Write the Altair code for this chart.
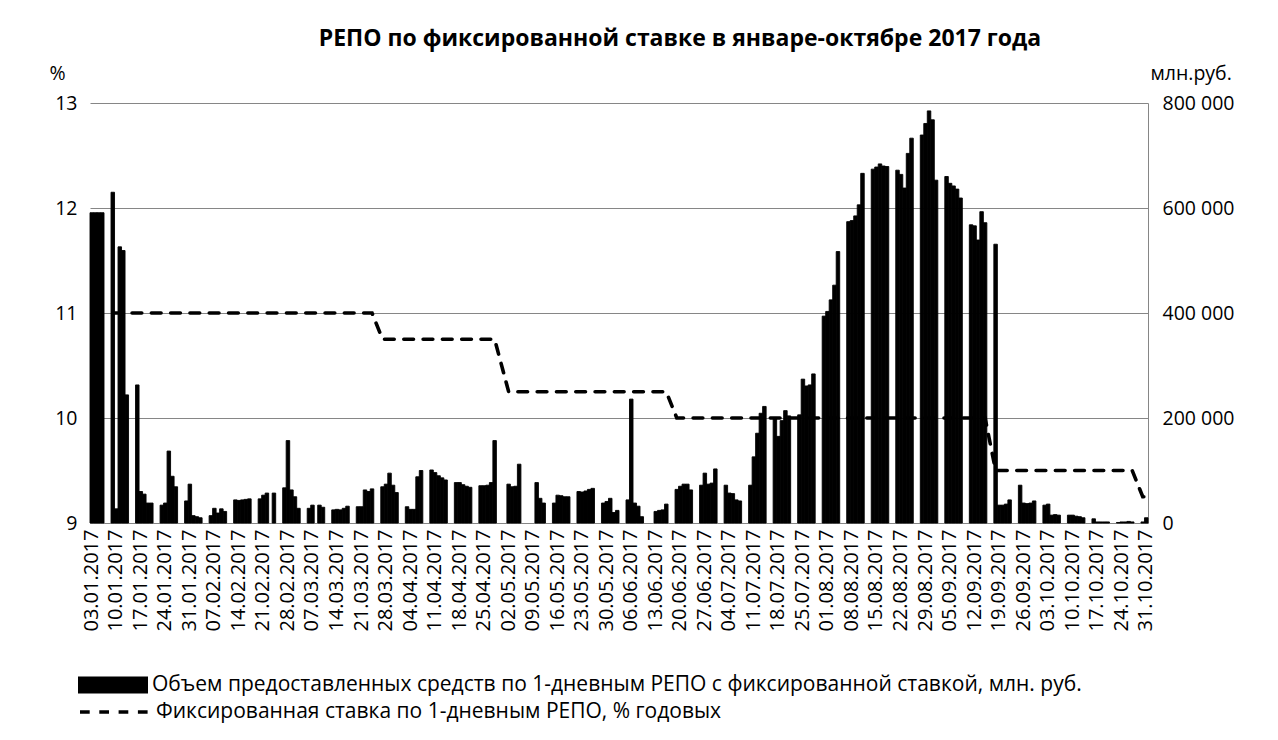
import altair as alt
import pandas as pd

# Monday of each week (business days Mon..Fri follow)
week_monday = [
    "2017-01-02", "2017-01-09", "2017-01-16", "2017-01-23", "2017-01-30",
    "2017-02-06", "2017-02-13", "2017-02-20", "2017-02-27", "2017-03-06",
    "2017-03-13", "2017-03-20", "2017-03-27", "2017-04-03", "2017-04-10",
    "2017-04-17", "2017-04-24", "2017-05-01", "2017-05-08", "2017-05-15",
    "2017-05-22", "2017-05-29", "2017-06-05", "2017-06-12", "2017-06-19",
    "2017-06-26", "2017-07-03", "2017-07-10", "2017-07-17", "2017-07-24",
    "2017-07-31", "2017-08-07", "2017-08-14", "2017-08-21", "2017-08-28",
    "2017-09-04", "2017-09-11", "2017-09-18", "2017-09-25", "2017-10-02",
    "2017-10-09", "2017-10-16", "2017-10-23", "2017-10-30",
]

# volume of 1-day fixed-rate repo, mln rub (Mon..Fri), None = no operation
volume_weeks = [
    [None, 591000, 591000, 591000, 591000],
    [630000, 27000, 526000, 519000, 244000],
    [263000, 60000, 55000, 38000, 38000],
    [34000, 38000, 137000, 89000, 69000],
    [42000, 74000, 14000, 12000, 10000],
    [14000, 28000, 19000, 27000, 22000],
    [44000, 43000, 44000, 45000, 46000],
    [46000, 53000, 57000, None, 57000],
    [67000, 157000, 63000, 50000, 28000],
    [28000, 34000, None, 34000, 30000],
    [25000, 26000, 25000, 28000, 32000],
    [31000, 31000, 63000, 60000, 65000],
    [69000, 74000, 95000, 72000, 58000],
    [31000, 26000, 26000, 88000, 100000],
    [101000, 96000, 90000, 86000, 82000],
    [77000, 77000, 73000, 70000, 68000],
    [71000, 71000, 72000, 77000, 157000],
    [None, 74000, 69000, 70000, 112000],
    [None, None, 77000, 47000, 38000],
    [38000, 53000, 52000, 50000, 50000],
    [60000, 59000, 61000, 64000, 66000],
    [38000, 41000, 47000, 20000, 24000],
    [44000, 236000, 38000, 32000, 12000],
    [None, 22000, 24000, 25000, 36000],
    [64000, 70000, 74000, 74000, 63000],
    [72000, 95000, 74000, 76000, 103000],
    [72000, 57000, 56000, 44000, 42000],
    [72000, 126000, 171000, 209000, 222000],
    [198000, 165000, 195000, 214000, 204000],
    [206000, 274000, 261000, 263000, 284000],
    [394000, 403000, 425000, 453000, 517000],
    [574000, 576000, 585000, 606000, 666000],
    [674000, 678000, 684000, 680000, 679000],
    [672000, 664000, 638000, 704000, 733000],
    [739000, 761000, 785000, 768000, 653000],
    [660000, 647000, 642000, 636000, 619000],
    [568000, 566000, 539000, 593000, 572000],
    [531000, 34000, 34000, 36000, 44000],
    [72000, 38000, 37000, 38000, 42000],
    [34000, 36000, 15000, 16000, 15000],
    [15000, 15000, 13000, 12000, 10000],
    [8000, 2000, 2000, 2000, 2000],
    [1000, 2000, 2000, 3000, 2000],
    [2000, 10000],
]

# fixed rate of 1-day repo, % p.a. (Mon..Fri)
rate_weeks = [
    [None, None, None, None, None],
    [11.0, 11.0, 11.0, 11.0, 11.0],
    [11.0, 11.0, 11.0, 11.0, 11.0],
    [11.0, 11.0, 11.0, 11.0, 11.0],
    [11.0, 11.0, 11.0, 11.0, 11.0],
    [11.0, 11.0, 11.0, 11.0, 11.0],
    [11.0, 11.0, 11.0, 11.0, 11.0],
    [11.0, 11.0, 11.0, None, 11.0],
    [11.0, 11.0, 11.0, 11.0, 11.0],
    [11.0, 11.0, None, 11.0, 11.0],
    [11.0, 11.0, 11.0, 11.0, 11.0],
    [11.0, 11.0, 11.0, 11.0, 11.0],
    [10.75, 10.75, 10.75, 10.75, 10.75],
    [10.75, 10.75, 10.75, 10.75, 10.75],
    [10.75, 10.75, 10.75, 10.75, 10.75],
    [10.75, 10.75, 10.75, 10.75, 10.75],
    [10.75, 10.75, 10.75, 10.75, 10.75],
    [None, 10.25, 10.25, 10.25, 10.25],
    [None, None, 10.25, 10.25, 10.25],
    [10.25, 10.25, 10.25, 10.25, 10.25],
    [10.25, 10.25, 10.25, 10.25, 10.25],
    [10.25, 10.25, 10.25, 10.25, 10.25],
    [10.25, 10.25, 10.25, 10.25, 10.25],
    [None, 10.25, 10.25, 10.25, 10.25],
    [10.0, 10.0, 10.0, 10.0, 10.0],
    [10.0, 10.0, 10.0, 10.0, 10.0],
    [10.0, 10.0, 10.0, 10.0, 10.0],
    [10.0, 10.0, 10.0, 10.0, 10.0],
    [10.0, 10.0, 10.0, 10.0, 10.0],
    [10.0, 10.0, 10.0, 10.0, 10.0],
    [10.0, 10.0, 10.0, 10.0, 10.0],
    [10.0, 10.0, 10.0, 10.0, 10.0],
    [10.0, 10.0, 10.0, 10.0, 10.0],
    [10.0, 10.0, 10.0, 10.0, 10.0],
    [10.0, 10.0, 10.0, 10.0, 10.0],
    [10.0, 10.0, 10.0, 10.0, 10.0],
    [10.0, 10.0, 10.0, 10.0, 10.0],
    [9.5, 9.5, 9.5, 9.5, 9.5],
    [9.5, 9.5, 9.5, 9.5, 9.5],
    [9.5, 9.5, 9.5, 9.5, 9.5],
    [9.5, 9.5, 9.5, 9.5, 9.5],
    [9.5, 9.5, 9.5, 9.5, 9.5],
    [9.5, 9.5, 9.5, 9.5, 9.5],
    [9.25, 9.25],
]

first_day = "2017-01-03"
last_day = "2017-10-31"
tick_every_days = 7

title_text = "РЕПО по фиксированной ставке в январе-октябре 2017 года"
bar_label = "Объем предоставленных средств по 1-дневным  РЕПО с фиксированной ставкой, млн. руб."
line_label = "Фиксированная ставка по 1-дневным РЕПО, % годовых"
left_unit = "%"
right_unit = "млн.руб."

FONT = "Open Sans"
GRID = "#868686"

all_days = [d.strftime("%d.%m.%Y") for d in pd.date_range(first_day, last_day)]
tick_labels = all_days[::tick_every_days]

rows = []
for monday, vols, rates in zip(week_monday, volume_weeks, rate_weeks):
    base = pd.Timestamp(monday)
    for i, (v, r) in enumerate(zip(vols, rates)):
        day = (base + pd.Timedelta(days=i)).strftime("%d.%m.%Y")
        if day in all_days and (v is not None or r is not None):
            rows.append({"date": day, "volume": v, "rate": r,
                         "bar_series": bar_label, "line_series": line_label})
df = pd.DataFrame(rows)

x_enc = alt.X(
    "date:O",
    scale=alt.Scale(domain=all_days, paddingInner=0, paddingOuter=0),
    axis=alt.Axis(values=tick_labels, labelAngle=270, labelFontSize=20,
                  labelPadding=6, ticks=False, domain=True, domainColor=GRID,
                  labelColor="black", title=None, labelFont=FONT),
)

bars = alt.Chart(df).transform_filter("isValid(datum.volume)").mark_bar(
    stroke="black", strokeWidth=0.9
).encode(
    x=x_enc,
    y=alt.Y("volume:Q",
            scale=alt.Scale(domain=[0, 800000], nice=False),
            axis=alt.Axis(orient="right", values=[0, 200000, 400000, 600000, 800000],
                          labelExpr="replace(format(datum.value, ','), regexp(',', 'g'), ' ')",
                          grid=False, ticks=False, domain=True, domainColor=GRID,
                          labelPadding=14, labelFontSize=19.5, labelColor="black",
                          labelFont=FONT,
                          title=right_unit, titleAngle=0, titleX=2, titleY=-24,
                          titleAlign="left", titleBaseline="alphabetic",
                          titleFontSize=19.5, titleFontWeight="normal", titleFont=FONT)),
    fill=alt.Fill("bar_series:N",
                  scale=alt.Scale(domain=[bar_label], range=["black"]),
                  legend=alt.Legend(title=None, orient="none", legendX=-12, legendY=547,
                                    symbolType="M-1,-0.24H1V0.24H-1Z", symbolSize=4900,
                                    symbolStrokeWidth=0, labelFontSize=21, labelLimit=0,
                                    labelOffset=4, labelColor="black", labelFont=FONT)),
)

line = alt.Chart(df).transform_filter("isValid(datum.rate)").mark_line(
    color="black", strokeWidth=3.6, strokeCap="round"
).encode(
    x=x_enc,
    y=alt.Y("rate:Q",
            scale=alt.Scale(domain=[9, 13], nice=False, zero=False),
            axis=alt.Axis(orient="left", values=[9, 10, 11, 12, 13],
                          grid=True, gridColor=GRID, gridWidth=1,
                          ticks=False, domain=False, labelPadding=13,
                          labelFontSize=19.5, labelColor="black", labelFont=FONT,
                          title=left_unit, titleAngle=0, titleX=-33, titleY=-24,
                          titleAlign="center", titleBaseline="alphabetic",
                          titleFontSize=19.5, titleFontWeight="normal", titleFont=FONT)),
    strokeDash=alt.StrokeDash("line_series:N",
                              scale=alt.Scale(domain=[line_label], range=[[9.7, 9.6]]),
                              legend=alt.Legend(title=None, orient="none", legendX=-12,
                                                legendY=572, symbolType="stroke",
                                                symbolSize=4900, symbolStrokeWidth=3.6,
                                                symbolStrokeColor="black",
                                                labelFontSize=21, labelLimit=0,
                                                labelOffset=4, labelColor="black",
                                                labelFont=FONT)),
)

chart = alt.layer(bars, line).resolve_scale(
    y="independent", fill="independent", strokeDash="independent"
).properties(
    width=1058,
    height=420,
    autosize=alt.AutoSizeParams(type="none"),
    padding={"left": 82, "top": 95, "right": 122, "bottom": 201},
    title=alt.TitleParams(text=title_text, fontSize=23, fontWeight="bold", font=FONT,
                          anchor="middle", frame="group", dx=61, offset=12,
                          color="black"),
).configure(background="white").configure_view(stroke="transparent")

chart.save("out.html", embed_options={"renderer": "svg", "actions": False})
